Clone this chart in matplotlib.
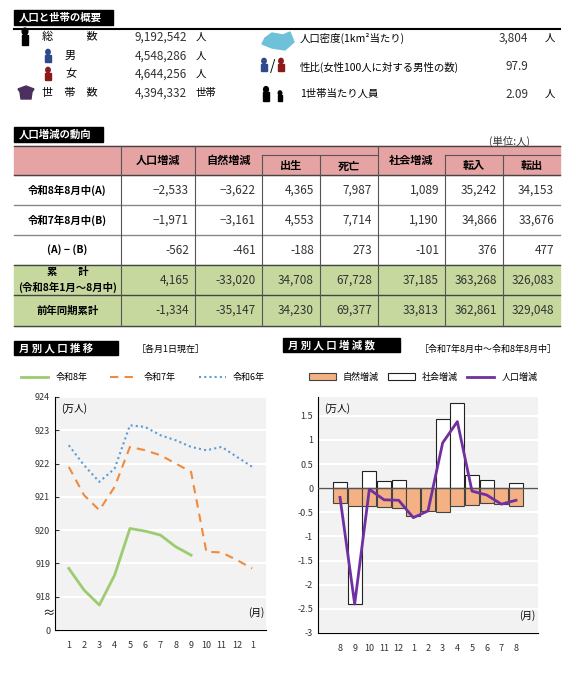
import numpy as np
import matplotlib.pyplot as plt
from matplotlib.patches import Rectangle, Circle, Polygon

plt.rcParams['font.family'] = ['Noto Sans CJK JP', 'DejaVu Sans']

W, H = 567, 678

# 概要
summary_left = [("総　　　数", "9,192,542", "人"), ("男", "4,548,286", "人"),
                ("女", "4,644,256", "人"), ("世　帯　数", "4,394,332", "世帯")]
summary_right = [("人口密度(1km²当たり)", "3,804", "人"),
                 ("性比(女性100人に対する男性の数)", "97.9", ""),
                 ("1世帯当たり人員", "2.09", "人")]

# 人口増減の動向
row_labels = ["令和8年8月中(A)", "令和7年8月中(B)", "(A) − (B)",
              "累　　計\n(令和8年1月～8月中)", "前年同期累計"]
table_vals = [
    ["−2,533", "−3,622", "4,365", "7,987", "1,089", "35,242", "34,153"],
    ["−1,971", "−3,161", "4,553", "7,714", "1,190", "34,866", "33,676"],
    ["-562", "-461", "-188", "273", "-101", "376", "477"],
    ["4,165", "-33,020", "34,708", "67,728", "37,185", "363,268", "326,083"],
    ["-1,334", "-35,147", "34,230", "69,377", "33,813", "362,861", "329,048"],
]

# 月別人口推移 (万人)
months_l = ["1", "2", "3", "4", "5", "6", "7", "8", "9", "10", "11", "12", "1"]
r8 = [918.85, 918.2, 917.75, 918.65, 920.05, 919.97, 919.85, 919.5, 919.25]
r7 = [921.9, 921.05, 920.6, 921.3, 922.5, 922.4, 922.25, 922.0, 921.75, 919.35, 919.33, 919.1, 918.85]
r6 = [922.55, 921.95, 921.45, 921.85, 923.15, 923.1, 922.85, 922.7, 922.5, 922.4, 922.5, 922.2, 921.9]

# 月別人口増減数 (万人)
months_r = ["8", "9", "10", "11", "12", "1", "2", "3", "4", "5", "6", "7", "8"]
natural = [-0.31, -0.37, -0.37, -0.39, -0.41, -0.58, -0.48, -0.50, -0.36, -0.34, -0.31, -0.33, -0.36]
social = [0.12, -2.40, 0.36, 0.15, 0.17, -0.03, 0.01, 1.44, 1.76, 0.28, 0.18, -0.01, 0.11]
total = [-0.19, -2.40, -0.02, -0.24, -0.25, -0.61, -0.47, 0.94, 1.38, -0.06, -0.14, -0.33, -0.25]

fig = plt.figure(figsize=(W / 100, H / 100), dpi=100)


def fx(x):
    return x / W


def fy(y):
    return 1 - y / H


def T(x, y, s, size=7.5, ha="left", va="center", **kw):
    fig.text(fx(x), fy(y), s, fontsize=size, ha=ha, va=va, **kw)


def R(x0, y0, x1, y1, **kw):
    fig.add_artist(Rectangle((fx(x0), fy(y1)), fx(x1) - fx(x0), fy(y0) - fy(y1),
                             transform=fig.transFigure, **kw))


def L(x0, y0, x1, y1, **kw):
    fig.add_artist(plt.Line2D([fx(x0), fx(x1)], [fy(y0), fy(y1)], transform=fig.transFigure, **kw))


def person(x, y, c, s=1.0):
    fig.add_artist(Circle((fx(x), fy(y - 5 * s)), 2.2 * s / W, transform=fig.transFigure, color=c))
    R(x - 2.6 * s, y - 2.5 * s, x + 2.6 * s, y + 5 * s, color=c)


def header(x0, y0, x1, y1, s):
    R(x0, y0, x1, y1, color="black")
    T(x0 + 5, (y0 + y1) / 2, s, size=7.5, color="white", weight="bold")


# ---- 概要 ----
header(14, 10, 113, 25, "人口と世帯の概要")
L(14, 29, 560, 29, color="black", lw=1.5)
ys = [37, 56, 74, 93]
xs_lab = [42, 65, 65, 42]
for (lab, v, u), y, xl in zip(summary_left, ys, xs_lab):
    T(xl, y, lab, size=8)
    T(187, y, v, size=8.5, ha="right", color="#333333")
    T(196, y, u, size=7.5)
person(25, 38, "black", 1.3)
person(48, 57, "#2f4a8a")
person(48, 75, "#8b1a1a")
fig.add_artist(Polygon([(fx(18), fy(89)), (fx(26), fy(86)), (fx(34), fy(89)), (fx(32), fy(92)),
                        (fx(31), fy(99)), (fx(21), fy(99)), (fx(20), fy(92))],
                       transform=fig.transFigure, color="#4b2f5e"))
fig.add_artist(Polygon([(fx(265), fy(38)), (fx(272), fy(33)), (fx(283), fy(35)), (fx(290), fy(32)),
                        (fx(294), fy(42)), (fx(285), fy(50)), (fx(272), fy(48)), (fx(262), fy(44))],
                       transform=fig.transFigure, color="#6ec1d9"))
person(264, 66, "#2f4a8a")
T(270, 66, "/", size=10)
person(281, 66, "#8b1a1a")
person(266, 95, "black", 1.1)
person(280, 97, "black", 0.8)
for (lab, v, u), y in zip(summary_right, [38, 67, 94]):
    T(300, y, lab, size=7.5)
    T(528, y, v, size=8.5, ha="right", color="#333333")
    T(545, y, u, size=7.5)

# ---- 人口増減の動向 ----
header(14, 127, 103, 142, "人口増減の動向")
T(530, 141, "(単位:人)", size=7.5, ha="right", color="#333333")
xb = [14, 121, 195, 262, 320, 378, 445, 503, 560]
hy = [146, 155, 175, 205, 235, 265, 295, 326]
R(14, hy[0], 560, hy[2], color="#e6a3a3", zorder=0)
R(14, hy[5], 560, hy[7], color="#c6d89e", zorder=0)
for i, y in enumerate(hy):
    if i == 1:
        continue
    L(14, y, 560, y, color="#444444" if i in (0, 2, 5, 6, 7) else "#888888", lw=1)
L(262, hy[1], 378, hy[1], color="#555555", lw=0.8)
L(445, hy[1], 560, hy[1], color="#555555", lw=0.8)
for i, x in enumerate(xb[1:-1], start=1):
    top = hy[1] if i in (3, 4, 6, 7) else hy[0]
    L(x, top, x, hy[7], color="#555555", lw=0.8)
heads = [("人口増減", 158, 160), ("自然増減", 228.5, 160), ("出生", 291, 166), ("死亡", 349, 166),
         ("社会増減", 411.5, 160), ("転入", 474, 166), ("転出", 531.5, 166)]
for s, x, y in heads:
    T(x, y, s, size=8, ha="center", weight="bold")
row_y = [(hy[k] + hy[k + 1]) / 2 for k in range(2, 7)]
for r, (lab, y) in enumerate(zip(row_labels, row_y)):
    T(67.5, y, lab, size=7.5, ha="center", weight="bold", linespacing=1.5)
    for c, v in enumerate(table_vals[r]):
        T(xb[c + 2] - 6, y, v, size=8.5, ha="right", color="#333333")

# ---- 月別人口推移 ----
header(14, 341, 118, 355, "月 別 人 口 推 移")
T(137, 349, "［各月1日現在］", size=6.5)
ax1 = fig.add_axes([fx(55), fy(630), fx(266) - fx(55), fy(397) - fy(630)])
ax1.set_facecolor("#f2f2f2")
x13 = np.arange(len(months_l))
ax1.plot(x13[:len(r8)], r8, color="#9ccc6f", lw=2, label="令和8年")
ax1.plot(x13, r7, color="#f08a3c", lw=1.5, ls=(0, (4, 3)), label="令和7年")
ax1.plot(x13, r6, color="#5b9bd5", lw=1.5, ls=(0, (1, 1.5)), label="令和6年")
ax1.set_ylim(917, 924)
ax1.set_yticks(range(917, 925))
ax1.set_yticklabels(["0"] + [str(v) for v in range(918, 925)])
ax1.set_xlim(-0.9, 12.9)
ax1.set_xticks(x13)
ax1.set_xticklabels(months_l)
ax1.grid(axis="y", color="white", lw=1.5)
ax1.set_axisbelow(True)
for s in ["top", "right"]:
    ax1.spines[s].set_visible(False)
ax1.tick_params(labelsize=6.5, colors="#333333", length=3, direction="in")
ax1.tick_params(axis="x", length=0, pad=8)
ax1.text(0.03, 0.975, "(万人)", transform=ax1.transAxes, fontsize=7, va="top")
ax1.text(0.99, 0.06, "(月)", transform=ax1.transAxes, fontsize=7, ha="right")
ax1.text(-0.03, 917.5, "≈", transform=ax1.get_yaxis_transform(), fontsize=9,
         ha="center", va="center")
ax1.legend(loc="lower left", bbox_to_anchor=(-0.2, 1.03), ncol=3, frameon=False,
           fontsize=6.5, handlelength=3, columnspacing=2.5)

# ---- 月別人口増減数 ----
header(283, 338, 400, 352, "月 別 人 口 増 減 数")
T(420, 349, "［令和7年8月中～令和8年8月中］", size=6.5)
ax2 = fig.add_axes([fx(318), fy(633), fx(538) - fx(318), fy(397) - fy(633)])
ax2.set_facecolor("#f2f2f2")
xr = np.arange(len(months_r))
b_soc = ax2.bar(xr, social, width=0.95, color="white", edgecolor="#222222", lw=0.8, zorder=2)
b_nat = ax2.bar(xr, natural, width=0.95, color="#f4b183", edgecolor="#444444", lw=0.8, zorder=3)
ln, = ax2.plot(xr, total, color="#7030a0", lw=2, zorder=4)
ax2.axhline(0, color="#555555", lw=1, zorder=3)
ax2.set_ylim(-3, 1.89)
ax2.set_yticks(np.arange(-3, 1.6, 0.5))
ax2.set_yticklabels(["-3", "-2.5", "-2", "-1.5", "-1", "-0.5", "0", "0.5", "1", "1.5"])
ax2.set_xlim(-1.5, 13.5)
ax2.set_xticks(xr)
ax2.set_xticklabels(months_r)
ax2.grid(axis="y", color="white", lw=1.5)
ax2.set_axisbelow(True)
for s in ["top", "right"]:
    ax2.spines[s].set_visible(False)
ax2.tick_params(labelsize=6.5, colors="#333333", length=0)
ax2.tick_params(axis="x", pad=8)
ax2.text(0.03, 0.975, "(万人)", transform=ax2.transAxes, fontsize=7, va="top")
ax2.text(0.99, 0.06, "(月)", transform=ax2.transAxes, fontsize=7, ha="right")
ax2.legend([b_nat, b_soc, ln], ["自然増減", "社会増減", "人口増減"], loc="lower left",
           bbox_to_anchor=(-0.08, 1.03), ncol=3, frameon=False, fontsize=6.5,
           handlelength=3, handleheight=0.7, columnspacing=1.0)

fig.savefig("out.png", dpi=100)
